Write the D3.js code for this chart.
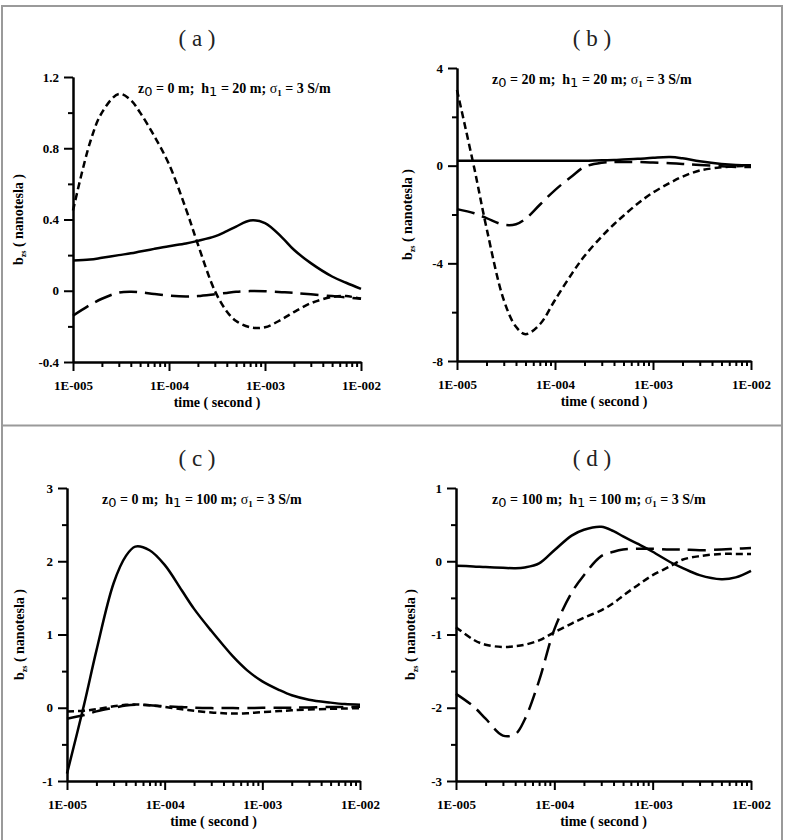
<!DOCTYPE html>
<meta charset="utf-8">
<style>
body { margin: 0; background: #fff; }
svg { display: block; font-family: "Liberation Serif", "Times New Roman", serif; }
.axis path, .axis line { stroke: #000; stroke-width: 2px; }
.axis text { font-size: 13px; font-weight: bold; fill: #000; font-family: "Liberation Serif", serif; }
.curve { fill: none; stroke: #000; stroke-width: 2.5px; }
.frame { stroke: #9a9a9a; stroke-width: 2px; }
.ttl { font-size: 23px; fill: #222; }
.lab { font-size: 14px; font-weight: bold; fill: #000; }
.anno { font-size: 14px; font-weight: bold; fill: #000; white-space: pre; }
</style>
<svg width="790" height="840"></svg>
<script src="https://d3js.org/d3.v7.min.js"></script>
<script>
// time samples (seconds), shared by every curve
var times = [1e-5, 1.5e-5, 2e-5, 3e-5, 4e-5, 5e-5, 7e-5, 1e-4, 1.5e-4, 2e-4, 3e-4,
             4e-4, 5e-4, 7e-4, 1e-3, 1.5e-3, 2e-3, 3e-3, 5e-3, 7e-3, 1e-2];
var majorTimes = [1e-5, 1e-4, 1e-3, 1e-2];
var xTickLabels = ["1E-005", "1E-004", "1E-003", "1E-002"];

// (a) z0 = 0 m, h1 = 20 m
var aSolid = [0.17, 0.175, 0.185, 0.20, 0.21, 0.22, 0.235, 0.25, 0.265, 0.28, 0.305,
              0.335, 0.36, 0.395, 0.38, 0.30, 0.23, 0.155, 0.08, 0.045, 0.01];
var aLong  = [-0.14, -0.08, -0.045, -0.01, -0.005, -0.008, -0.018, -0.027, -0.032, -0.03, -0.02,
              -0.012, -0.006, -0.002, -0.003, -0.008, -0.012, -0.02, -0.03, -0.037, -0.045];
var aShort = [0.45, 0.83, 1.0, 1.105, 1.07, 1.0, 0.87, 0.71, 0.46, 0.26, 0.0,
              -0.116, -0.17, -0.205, -0.205, -0.16, -0.12, -0.07, -0.035, -0.03, -0.045];

// (b) z0 = 20 m, h1 = 20 m
var bSolid = [0.2, 0.2, 0.2, 0.2, 0.2, 0.2, 0.2, 0.2, 0.2, 0.2, 0.22,
              0.23, 0.25, 0.28, 0.32, 0.35, 0.3, 0.18, 0.07, 0.03, 0.02];
var bLong  = [-1.78, -1.95, -2.15, -2.42, -2.4, -2.18, -1.6, -1.0, -0.42, -0.05, 0.12,
              0.15, 0.15, 0.15, 0.13, 0.1, 0.07, 0.03, -0.02, -0.05, -0.05];
var bShort = [3.1, -0.1, -2.55, -5.5, -6.6, -6.9, -6.5, -5.5, -4.4, -3.7, -2.9,
              -2.4, -2.05, -1.55, -1.1, -0.7, -0.45, -0.2, -0.07, -0.03, 0.0];

// (c) z0 = 0 m, h1 = 100 m
var cSolid = [-0.9, 0.05, 0.78, 1.7, 2.07, 2.2, 2.15, 1.95, 1.6, 1.35, 1.05,
              0.85, 0.70, 0.51, 0.36, 0.24, 0.17, 0.11, 0.07, 0.05, 0.04];
var cLong  = [-0.15, -0.1, -0.05, 0.0, 0.03, 0.04, 0.035, 0.02, 0.01, 0.0, -0.005,
              -0.005, -0.005, -0.005, 0.0, 0.0, 0.0, 0.005, 0.01, 0.01, 0.015];
var cShort = [-0.05, -0.04, -0.02, 0.02, 0.04, 0.045, 0.035, 0.01, -0.02, -0.04, -0.065,
              -0.075, -0.08, -0.075, -0.06, -0.045, -0.035, -0.025, -0.015, -0.01, -0.005];

// (d) z0 = 100 m, h1 = 100 m
var dSolid = [-0.06, -0.07, -0.08, -0.09, -0.095, -0.085, -0.03, 0.15, 0.35, 0.43, 0.47,
              0.41, 0.34, 0.24, 0.13, -0.01, -0.09, -0.19, -0.245, -0.22, -0.13];
var dLong  = [-1.81, -1.98, -2.15, -2.38, -2.36, -2.16, -1.63, -0.93, -0.43, -0.19, 0.07,
              0.13, 0.16, 0.17, 0.17, 0.16, 0.16, 0.15, 0.16, 0.17, 0.18];
var dShort = [-0.9, -1.07, -1.14, -1.17, -1.16, -1.14, -1.08, -0.97, -0.85, -0.77, -0.67,
              -0.57, -0.47, -0.33, -0.19, -0.07, 0.02, 0.07, 0.1, 0.1, 0.1];

var panelLetters = ["a", "b", "c", "d"];
var z0Values = ["0", "20", "0", "100"];
var h1Values = ["20", "20", "100", "100"];
var sigmaValue = "3";
var yDomains = [[-0.4, 1.2], [-8, 4], [-1, 3], [-3, 1]];
var yMajor = [[-0.4, 0, 0.4, 0.8, 1.2], [-8, -4, 0, 4], [-1, 0, 1, 2, 3], [-3, -2, -1, 0, 1]];
var yMinor = [[-0.2, 0.2, 0.6, 1.0], [-6, -2, 2], [-0.5, 0.5, 1.5, 2.5], [-2.5, -1.5, -0.5, 0.5]];
var series = [[aSolid, aLong, aShort], [bSolid, bLong, bShort], [cSolid, cLong, cShort], [dSolid, dLong, dShort]];

// layout of each panel box (pixels)
var boxes = [
  {x0: 0,   y0: 0,   left: 73,  right: 361, top: 77,  bottom: 362, annoX: 138, annoY: 93,  yLabX: 23},
  {x0: 395, y0: 0,   left: 457, right: 751, top: 68,  bottom: 361, annoX: 492, annoY: 84,  yLabX: 412},
  {x0: 0,   y0: 420, left: 67,  right: 360, top: 488, bottom: 781, annoX: 102, annoY: 504, yLabX: 24},
  {x0: 395, y0: 420, left: 456, right: 751, top: 488, bottom: 781, annoX: 492, annoY: 504, yLabX: 415}
];
var dashes = [null, "18,8", "7,4"];

var svg = d3.select("svg");

svg.append("rect").attr("width", 790).attr("height", 840).attr("fill", "#fff");

// frame
svg.append("path").attr("class", "frame").attr("fill", "none")
    .attr("d", "M2,840V6H782V840M2,425.5H782");

boxes.forEach(function(b, i) {
  var x = d3.scaleLog().domain([1e-5, 1e-2]).range([b.left, b.right]);
  var y = d3.scaleLinear().domain(yDomains[i]).range([b.bottom, b.top]);
  var g = svg.append("g");

  var minorX = x.ticks().filter(function(t) {
    return majorTimes.every(function(m) { return Math.abs(t / m - 1) > 1e-6; });
  });

  g.append("g").attr("class", "axis")
      .attr("transform", "translate(0," + b.bottom + ")")
      .call(d3.axisBottom(x).tickValues(minorX).tickSize(5).tickSizeOuter(0).tickFormat(""));
  g.append("g").attr("class", "axis")
      .attr("transform", "translate(0," + b.bottom + ")")
      .call(d3.axisBottom(x).tickValues(majorTimes).tickSize(9).tickSizeOuter(0).tickPadding(10)
        .tickFormat(function(d, k) { return xTickLabels[k]; }))
      .attr("font-family", null).attr("font-size", null);

  g.append("g").attr("class", "axis")
      .attr("transform", "translate(" + b.left + ",0)")
      .call(d3.axisLeft(y).tickValues(yMinor[i]).tickSize(5).tickSizeOuter(0).tickFormat(""));
  g.append("g").attr("class", "axis")
      .attr("transform", "translate(" + b.left + ",0)")
      .call(d3.axisLeft(y).tickValues(yMajor[i]).tickSize(9).tickSizeOuter(0).tickPadding(5)
        .tickFormat(function(d) { return String(d); }))
      .attr("font-family", null).attr("font-size", null);

  var line = d3.line()
      .x(function(d, k) { return x(times[k]); })
      .y(function(d) { return y(d); })
      .curve(d3.curveCatmullRom.alpha(0.5));

  series[i].forEach(function(s, k) {
    g.append("path")
        .datum(s)
        .attr("class", "curve")
        .attr("stroke-dasharray", dashes[k])
        .attr("d", line);
  });

  // panel title
  g.append("text").attr("class", "ttl")
      .attr("x", b.x0 + 197).attr("y", b.y0 + 46)
      .attr("text-anchor", "middle")
      .style("white-space", "pre")
      .text("( " + panelLetters[i] + " )");

  // x title
  g.append("text").attr("class", "lab")
      .attr("x", (b.left + b.right) / 2).attr("y", b.bottom + 45)
      .attr("text-anchor", "middle")
      .style("white-space", "pre")
      .text("time ( second )");

  // y title
  var yl = g.append("text").attr("class", "lab")
      .attr("transform", "translate(" + b.yLabX + "," + (b.top + b.bottom) / 2 + ") rotate(-90)")
      .attr("text-anchor", "middle")
      .style("white-space", "pre");
  yl.append("tspan").text("b");
  yl.append("tspan").attr("font-size", "8px").attr("dy", 3).text("zs");
  yl.append("tspan").attr("dy", -3).text(" ( nanotesla )");

  // parameter annotation
  var an = g.append("text").attr("class", "anno").attr("x", b.annoX).attr("y", b.annoY);
  an.append("tspan").text("z");
  an.append("tspan").attr("font-weight", "normal").attr("font-family", "DejaVu Sans")
      .attr("font-size", "13px").attr("dy", 3).text("0");
  an.append("tspan").attr("dy", -3).text(" = " + z0Values[i] + " m;  h");
  an.append("tspan").attr("font-weight", "normal").attr("font-family", "DejaVu Sans")
      .attr("font-size", "13px").attr("dy", 3).text("1");
  an.append("tspan").attr("dy", -3).text(" = " + h1Values[i] + " m; ");
  an.append("tspan").attr("font-weight", "normal").text("σ");
  an.append("tspan").attr("font-size", "9px").attr("dy", 3).text("1");
  an.append("tspan").attr("dy", -3).text(" = " + sigmaValue + " S/m");
});
</script>
